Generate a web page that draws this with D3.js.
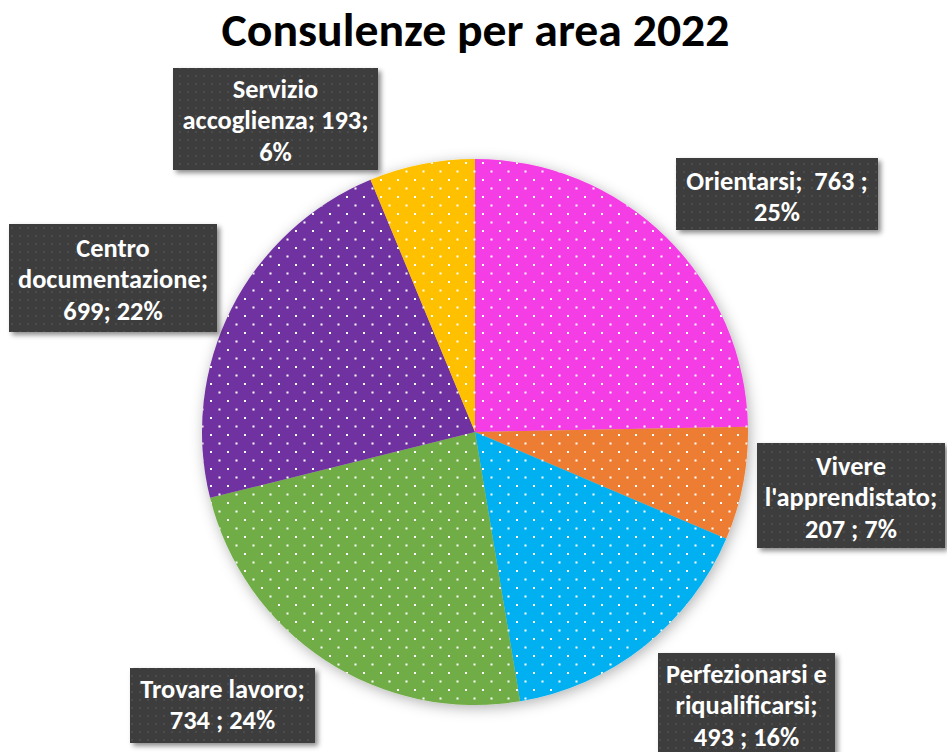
<!DOCTYPE html>
<html>
<head>
<meta charset="utf-8">
<script src="https://cdn.jsdelivr.net/npm/d3@7/dist/d3.min.js"></script>
<style>
html,body{margin:0;padding:0;background:#fff;}
svg{display:block;}
</style>
</head>
<body>
<svg id="chart" width="947" height="752"></svg>
<script>
// ---- data ----
const title = "Consulenze per area 2022";
const categories = ["Orientarsi", "Vivere l'apprendistato", "Perfezionarsi e riqualificarsi", "Trovare lavoro", "Centro documentazione", "Servizio accoglienza"];
const values = [763, 207, 493, 734, 699, 193];
const percentLabels = ["25%", "7%", "16%", "24%", "22%", "6%"];
const colors = ["#F43DE4", "#ED7D31", "#00B0F0", "#70AD47", "#7030A0", "#FFC000"];
const labelLines = [
  ["Orientarsi;  763 ;", "25%"],
  ["Vivere", "l'apprendistato;", "207 ; 7%"],
  ["Perfezionarsi e", "riqualificarsi;", "493 ; 16%"],
  ["Trovare lavoro;", "734 ; 24%"],
  ["Centro", "documentazione;", "699; 22%"],
  ["Servizio", "accoglienza; 193;", "6%"]
];

// ---- layout (not data) ----
const W = 947, H = 752;
const cx = 475, cy = 432, R = 273;
const boxes = [
  {x: 676, y: 158, w: 202, h: 72,  b: 190},
  {x: 757, y: 443, w: 188, h: 105, b: 475},
  {x: 658, y: 653, w: 177, h: 110, b: 683},
  {x: 130, y: 668, w: 185, h: 75,  b: 698},
  {x: 9,   y: 224, w: 208, h: 108, b: 257},
  {x: 173, y: 68,  w: 205, h: 102, b: 98}
];
const lineH = 31.5;
const FONT = "Carlito, Calibri, Lato, 'Open Sans', sans-serif";

const svg = d3.select("#chart");
const defs = svg.append("defs");

// white dot pattern for pie (pattern space = pie group space, origin at pie centre)
const pat = defs.append("pattern").attr("id", "dots")
  .attr("patternUnits", "userSpaceOnUse").attr("width", 17).attr("height", 17)
  .attr("x", 7).attr("y", -253);
pat.append("rect").attr("x", 0).attr("y", 0).attr("width", 2).attr("height", 2).attr("fill", "#fff");
pat.append("rect").attr("x", 8.5).attr("y", 8.5).attr("width", 2).attr("height", 2).attr("fill", "#fff");

// subtle dot pattern for label boxes
const pat2 = defs.append("pattern").attr("id", "boxdots")
  .attr("patternUnits", "userSpaceOnUse").attr("width", 8).attr("height", 8);
pat2.append("rect").attr("width", 8).attr("height", 8).attr("fill", "#3d3d3d");
pat2.append("rect").attr("x", 3).attr("y", 3).attr("width", 2).attr("height", 2).attr("fill", "#4b4b4b");

// shadows
const f1 = defs.append("filter").attr("id", "pieShadow")
  .attr("x", "-20%").attr("y", "-20%").attr("width", "140%").attr("height", "140%");
f1.append("feDropShadow").attr("dx", 2).attr("dy", 3).attr("stdDeviation", 7)
  .attr("flood-color", "#000").attr("flood-opacity", 0.3);
const f2 = defs.append("filter").attr("id", "boxShadow")
  .attr("x", "-20%").attr("y", "-20%").attr("width", "140%").attr("height", "140%");
f2.append("feDropShadow").attr("dx", 3).attr("dy", 3).attr("stdDeviation", 2.5)
  .attr("flood-color", "#000").attr("flood-opacity", 0.45);

svg.append("rect").attr("width", W).attr("height", H).attr("fill", "#fff");

// title
const tX = W / 2 + 2;
const titleText = svg.append("text")
  .attr("x", 0).attr("y", 46)
  .attr("text-anchor", "middle")
  .attr("font-family", FONT).attr("font-weight", "bold")
  .attr("font-size", 47).attr("fill", "#000")
  .text(title);
{
  const tw = titleText.node().getComputedTextLength();
  const k = 508 / tw;
  titleText.attr("transform", `translate(${tX},0) scale(${k},1)`);
}

// pie
const pie = d3.pie().sort(null).value(d => d).startAngle(0).endAngle(2 * Math.PI);
const arcs = pie(values);
const arc = d3.arc().innerRadius(0).outerRadius(R);

const gPie = svg.append("g").attr("transform", `translate(${cx},${cy})`);
gPie.append("g").attr("filter", "url(#pieShadow)")
  .selectAll("path").data(arcs).join("path")
  .attr("d", arc)
  .attr("fill", (d, i) => colors[i]);
gPie.append("g")
  .selectAll("path").data(arcs).join("path")
  .attr("d", arc)
  .attr("fill", "url(#dots)");

// labels
const gLab = svg.append("g");
let kLab = 1;
{
  const probe = svg.append("text").attr("font-family", FONT).attr("font-weight", "bold")
    .attr("font-size", 26).text("documentazione;");
  kLab = 190 / probe.node().getComputedTextLength();
  probe.remove();
}
labelLines.forEach((lines, i) => {
  const b = boxes[i];
  const g = gLab.append("g").attr("class", "label").datum(categories[i]);
  g.append("rect").attr("x", b.x).attr("y", b.y).attr("width", b.w).attr("height", b.h)
    .attr("fill", "url(#boxdots)").attr("filter", "url(#boxShadow)");
  const mx = b.x + b.w / 2;
  const t = g.append("text")
    .attr("text-anchor", "middle")
    .attr("font-family", FONT).attr("font-weight", "bold")
    .attr("font-size", 26).attr("fill", "#fff")
    .attr("style", "white-space:pre")
    .attr("transform", `translate(${mx},0) scale(${kLab},1)`);
  lines.forEach((ln, j) => {
    t.append("tspan").attr("x", 0).attr("y", b.b + j * lineH).text(ln);
  });
});
</script>
</body>
</html>
